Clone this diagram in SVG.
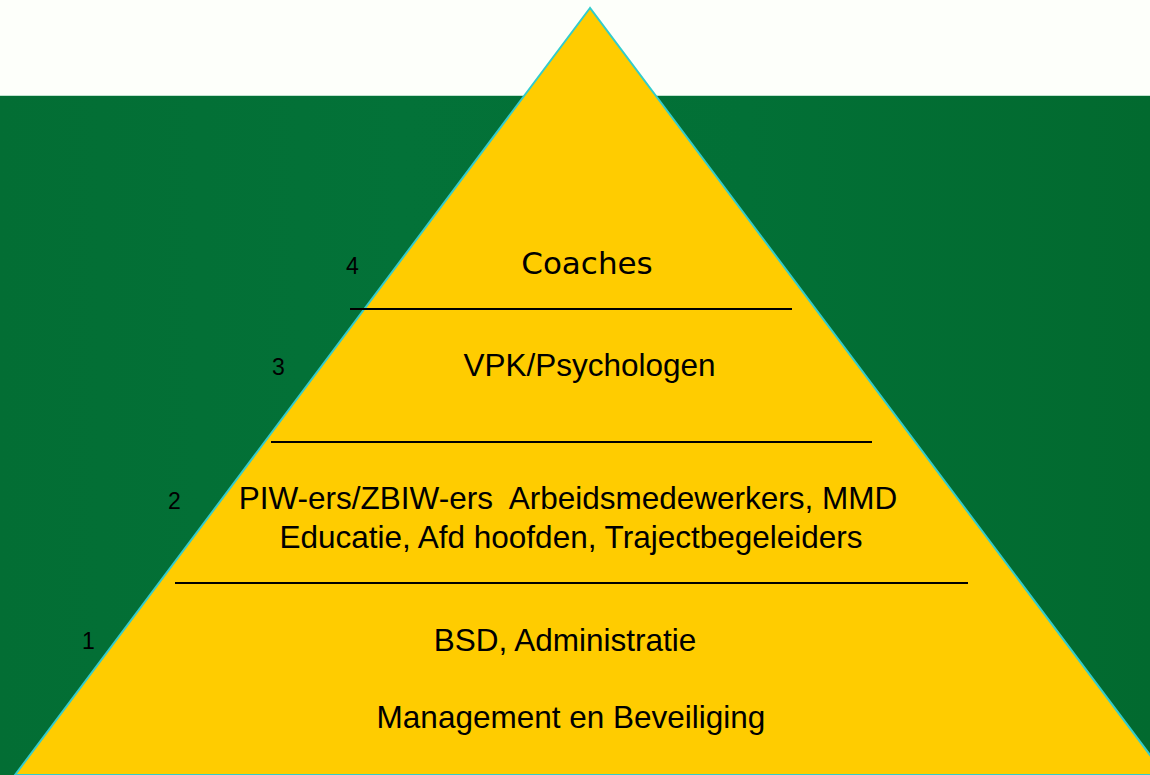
<svg xmlns="http://www.w3.org/2000/svg" width="1150" height="775" viewBox="0 0 1150 775">
  <defs>
    <linearGradient id="bg" x1="0" y1="0" x2="1" y2="0">
      <stop offset="0" stop-color="#036e34"/>
      <stop offset="0.35" stop-color="#037238"/>
      <stop offset="0.65" stop-color="#027036"/>
      <stop offset="1" stop-color="#026a2f"/>
    </linearGradient>
    <style>
      .lbl { font-family: "Liberation Sans", Arial, sans-serif; font-size: 31.5px; fill: #000; text-anchor: middle; }
      .num { font-family: "Liberation Sans", Arial, sans-serif; font-size: 23px; fill: #000; }
      .rule { stroke: #000; stroke-width: 1.8; }
    </style>
  </defs>
  <rect x="0" y="0" width="1150" height="775" fill="#fdfffa"/>
  <rect x="0" y="95" width="1150" height="680" fill="url(#bg)"/>
  <line x1="0" y1="95.5" x2="1150" y2="95.5" stroke="#bfe3cf" stroke-width="1"/>
  <g id="pyramid">
    <polygon points="590,8 15,775 1165,775" fill="#ffcc00" stroke="#33cccc" stroke-width="2"/>
  </g>
  <g id="connectors">
    <line class="rule" x1="350" y1="309" x2="792" y2="309"/>
    <line class="rule" x1="271" y1="442" x2="872" y2="442"/>
    <line class="rule" x1="175" y1="583" x2="968" y2="583"/>
  </g>
  <g id="level4">
    <text class="num" x="346" y="274">4</text>
    <text x="587" y="274" style="font-family: 'DejaVu Sans', Verdana, sans-serif; font-size: 31px; fill: #000; text-anchor: middle;">Coaches</text>
  </g>
  <g id="level3">
    <text class="num" x="272" y="375">3</text>
    <text class="lbl" x="589.5" y="376">VPK/Psychologen</text>
  </g>
  <g id="level2">
    <text class="num" x="168" y="509">2</text>
    <text class="lbl" x="568" y="509" xml:space="preserve">PIW-ers/ZBIW-ers  Arbeidsmedewerkers, MMD</text>
    <text class="lbl" x="571" y="548">Educatie, Afd hoofden, Trajectbegeleiders</text>
  </g>
  <g id="level1">
    <text class="num" x="82" y="649">1</text>
    <text class="lbl" x="565" y="651">BSD, Administratie</text>
    <text class="lbl" x="571" y="728">Management en Beveiliging</text>
  </g>
</svg>
